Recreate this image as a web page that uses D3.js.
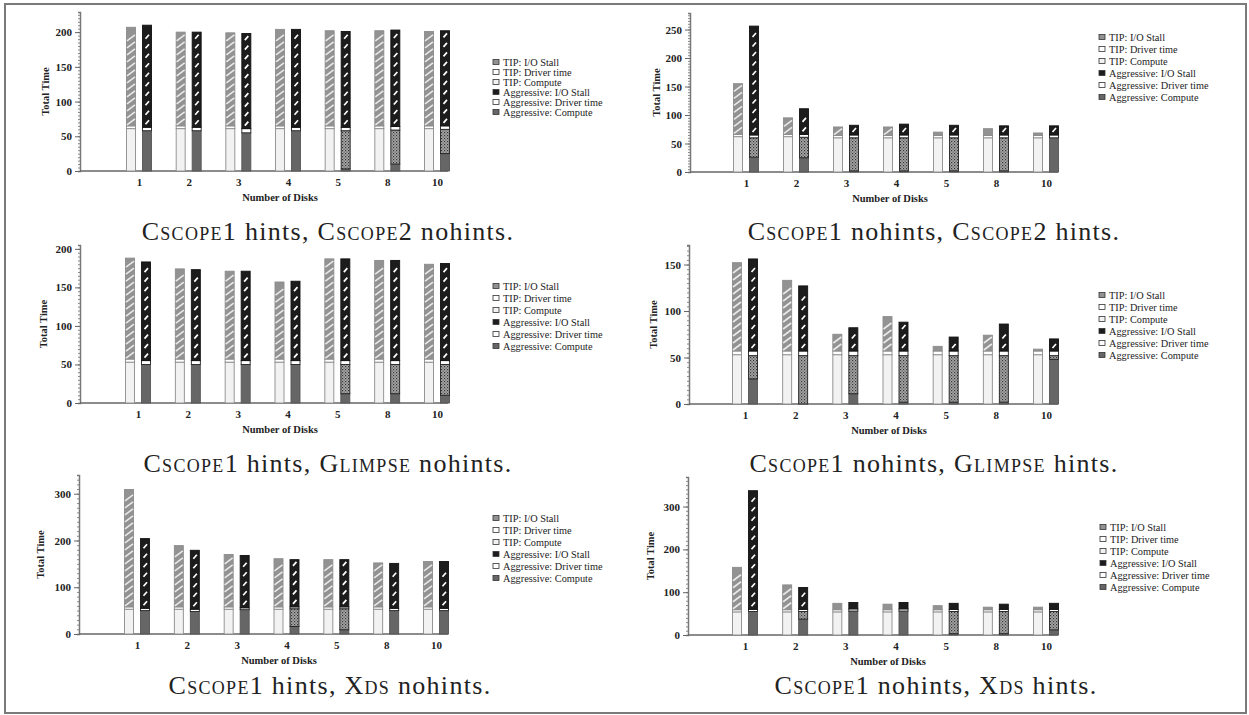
<!DOCTYPE html>
<html>
<head>
<meta charset="utf-8">
<script src="https://cdn.jsdelivr.net/npm/d3@7"></script>
<style>
  body { margin: 0; background: #fff; }
  svg { display: block; }
  .tick text { font-family: "Liberation Serif", serif; font-weight: bold; font-size: 11px; fill: #222; }
</style>
</head>
<body>
<script>
// categories and captions
const disks = ["1", "2", "3", "4", "5", "8", "10"];
// even parts are set in small caps
const captions = [
  ["Cscope", "1 hints, ", "Cscope", "2 nohints."],
  ["Cscope", "1 nohints, ", "Cscope", "2 hints."],
  ["Cscope", "1 hints, ", "Glimpse", " nohints."],
  ["Cscope", "1 nohints, ", "Glimpse", " hints."],
  ["Cscope", "1 hints, ", "Xds", " nohints."],
  ["Cscope", "1 nohints, ", "Xds", " hints."]
];
const legendLabels = [
  "TIP:  I/O Stall", "TIP:  Driver time", "TIP:  Compute",
  "Aggressive:  I/O Stall", "Aggressive:  Driver time", "Aggressive:  Compute"
];

// y domain top and tick step for each panel
const yMax = [229, 279, 205, 171, 340, 369];
const yStep = [50, 50, 50, 50, 100, 100];

// series, one row per panel, one value per disk count
const tipCompute = [
  [61, 61, 61, 61, 61, 61, 61],
  [62, 62, 60, 60, 60, 60, 60],
  [53, 53, 53, 53, 53, 53, 53],
  [53, 53, 53, 53, 53, 53, 53],
  [53, 53, 53, 53, 53, 53, 53],
  [54, 54, 54, 54, 54, 54, 54]
];
const tipDriver = [
  [4, 4, 4, 4, 4, 4, 4],
  [4, 4, 4, 4, 4, 4, 4],
  [4, 4, 4, 4, 4, 4, 4],
  [4, 4, 4, 4, 4, 4, 4],
  [5, 5, 5, 5, 5, 5, 5],
  [5, 5, 5, 5, 5, 5, 5]
];
const tipStall = [
  [142, 135, 134, 139, 137, 137, 136],
  [89, 29, 15, 15, 6, 12, 4.5],
  [131, 117, 114, 100, 130, 128, 123],
  [95, 76, 18, 37, 5, 17, 2],
  [251, 131, 112, 103, 101, 94, 97],
  [99, 58, 15, 13, 9.5, 6, 6]
];
const aggCompute = [
  [58, 58, 55, 58, 3, 10, 25],
  [26, 25, 2, 2, 2, 2, 60],
  [50, 50, 50, 50, 12, 12, 10],
  [27, 0, 11, 2, 2, 2, 48],
  [50, 48, 52, 16, 9, 50, 50],
  [55, 37, 56, 56, 3, 3, 12]
];
const aggOverlap = [
  [0, 0, 0, 0, 55, 49, 35],
  [34, 36, 58, 58, 58, 58, 0],
  [0, 0, 0, 0, 38, 38, 40],
  [25, 52, 41, 50, 50, 50, 4],
  [0, 0, 0, 38, 45, 0, 0],
  [0, 18, 0, 0, 52, 52, 43]
];
const aggDriver = [
  [5, 5, 6, 5, 5, 5, 5],
  [5, 5, 5, 5, 5, 5, 5],
  [5, 5, 5, 5, 5, 5, 5],
  [5, 5, 5, 5, 5, 5, 5],
  [5, 5, 4, 4, 4, 5, 5],
  [5, 5, 5, 5, 5, 5, 5]
];
const aggStall = [
  [147, 137, 137, 141, 138, 139, 137],
  [191, 45, 17, 19, 17, 16, 16],
  [128, 118, 116, 103, 132, 130, 126],
  [99, 70, 25, 31, 15, 29, 13],
  [149, 126, 112, 101, 101, 96, 100],
  [277, 51, 15, 15, 14, 12, 14]
];

// panel placement on the page
const layout = [
  { ax: 80,  y0: 171, y1: 12,  x0: 139, x1: 437,  xEnd: 448,  lx: 493,  ly: 62,  ld: 10, cx: 328, cy: 240, tx: 45 },
  { ax: 690, y0: 172, y1: 13,  x0: 746, x1: 1046, xEnd: 1058, lx: 1099, ly: 37,  ld: 12, cx: 934, cy: 240, tx: 656 },
  { ax: 80,  y0: 403, y1: 245, x0: 138, x1: 437,  xEnd: 448,  lx: 493,  ly: 286, ld: 12, cx: 328, cy: 472, tx: 43 },
  { ax: 689, y0: 404, y1: 245, x0: 745, x1: 1046, xEnd: 1058, lx: 1099, ly: 295, ld: 12, cx: 934, cy: 472, tx: 653 },
  { ax: 79,  y0: 634, y1: 475, x0: 137, x1: 436,  xEnd: 448,  lx: 493,  ly: 518, ld: 12, cx: 330, cy: 694, tx: 40 },
  { ax: 688, y0: 635, y1: 477, x0: 745, x1: 1046, xEnd: 1058, lx: 1100, ly: 527, ld: 12, cx: 936, cy: 694, tx: 650 }
];

const barW = 9;

const fills = {
  tipCompute: "#f2f2f2",
  tipDriver: "#ffffff",
  tipStall: "#929292",
  aggCompute: "#666666",
  aggOverlap: "url(#dots)",
  aggDriver: "#ffffff",
  aggStall: "#1c1c1c"
};
const strokes = {
  tipCompute: "#8c8c8c", tipDriver: "#8c8c8c", tipStall: "#8c8c8c",
  aggCompute: "#555", aggOverlap: "#222", aggDriver: "#222", aggStall: "#111"
};

const svg = d3.select("body").append("svg")
  .attr("width", 1249)
  .attr("height", 715);

// dotted pattern for the hatched part of aggressive bars
const defs = svg.append("defs");
const dots = defs.append("pattern")
  .attr("id", "dots")
  .attr("patternUnits", "userSpaceOnUse")
  .attr("width", 3).attr("height", 3);
dots.append("rect").attr("width", 3).attr("height", 3).attr("fill", "#a8a8a8");
dots.append("rect").attr("width", 1.2).attr("height", 1.2).attr("fill", "#333");
dots.append("rect").attr("x", 1.5).attr("y", 1.5).attr("width", 1.2).attr("height", 1.2).attr("fill", "#555");

// frame
svg.append("rect")
  .attr("x", 5).attr("y", 4)
  .attr("width", 1241).attr("height", 709)
  .attr("fill", "none")
  .attr("stroke", "#7a7a7a")
  .attr("stroke-width", 2);

layout.forEach((L, p) => {
  const g = svg.append("g");

  const y = d3.scaleLinear().domain([0, yMax[p]]).range([L.y0, L.y1]);
  const x = d3.scalePoint().domain(disks).range([L.x0, L.x1]);

  // minor ticks
  g.append("g")
    .attr("transform", "translate(" + L.ax + ",0)")
    .call(d3.axisLeft(y).tickValues(d3.range(0, yMax[p], yStep[p] / 10)).tickSize(2).tickFormat(""))
    .call(a => a.selectAll("line").attr("stroke", "#888"))
    .call(a => a.select(".domain").attr("stroke", "#777").attr("stroke-width", 1.5));

  // major ticks
  g.append("g")
    .attr("transform", "translate(" + L.ax + ",0)")
    .call(d3.axisLeft(y).tickValues(d3.range(0, yMax[p], yStep[p])).tickSize(5).tickPadding(3))
    .call(a => a.select(".domain").remove())
    .call(a => a.selectAll("line").attr("stroke", "#666"));

  // baseline
  g.append("line")
    .attr("x1", L.ax).attr("x2", L.xEnd)
    .attr("y1", y(0)).attr("y2", y(0))
    .attr("stroke", "#666")
    .attr("stroke-width", 1.6);

  // x tick labels
  g.append("g")
    .attr("transform", "translate(0," + y(0) + ")")
    .call(d3.axisBottom(x).tickSize(0).tickPadding(7))
    .call(a => a.select(".domain").remove());

  // axis titles
  g.append("text")
    .attr("x", L.ax + 200)
    .attr("y", y(0) + 30)
    .attr("text-anchor", "middle")
    .style("font-family", "Liberation Serif, serif")
    .style("font-weight", "bold")
    .style("font-size", "10.5px")
    .attr("fill", "#222")
    .text("Number of Disks");

  g.append("text")
    .attr("transform", "translate(" + L.tx + "," + (L.y0 + L.y1) / 2 + ") rotate(-90)")
    .attr("text-anchor", "middle")
    .attr("dy", "0.35em")
    .style("font-family", "Liberation Serif, serif")
    .style("font-weight", "bold")
    .style("font-size", "10.5px")
    .attr("fill", "#222")
    .text("Total Time");

  // stacked bars
  const bars = [
    { off: -12.5, keys: ["tipCompute", "tipDriver", "tipStall"], src: [tipCompute, tipDriver, tipStall] },
    { off: 3.5, keys: ["aggCompute", "aggOverlap", "aggDriver", "aggStall"], src: [aggCompute, aggOverlap, aggDriver, aggStall] }
  ];

  bars.forEach(b => {
    disks.forEach((d, i) => {
      let base = 0;
      const bx = x(d) + b.off;
      b.keys.forEach((k, j) => {
        const v = b.src[j][p][i];
        if (!v) return;
        const top = y(base + v), bot = y(base);
        base += v;
        g.append("rect")
          .attr("x", bx).attr("y", top)
          .attr("width", barW).attr("height", bot - top)
          .attr("fill", fills[k])
          .attr("stroke", strokes[k])
          .attr("stroke-width", 0.9);

        if (k === "tipStall") {
          // light diagonal stripes
          d3.range(bot - 1, top + 7, -7).forEach(yy => {
            g.append("line")
              .attr("x1", bx + 0.5).attr("y1", yy)
              .attr("x2", bx + barW - 0.5).attr("y2", yy - 6)
              .attr("stroke", "#fff").attr("stroke-width", 1.6).attr("opacity", 0.8);
          });
        }
        if (k === "aggStall") {
          // short white slashes
          d3.range(bot - 5, top + 4, -9.5).forEach(yy => {
            g.append("line")
              .attr("x1", bx + 3).attr("y1", yy + 2)
              .attr("x2", bx + 6.5).attr("y2", yy - 2)
              .attr("stroke", "#fff").attr("stroke-width", 1.7);
          });
        }
      });
    });
  });

  // legend
  const legendKeys = ["tipStall", "tipDriver", "tipCompute", "aggStall", "aggDriver", "aggCompute"];
  const lg = g.append("g").attr("transform", "translate(" + L.lx + "," + L.ly + ")");
  legendLabels.forEach((t, i) => {
    lg.append("rect")
      .attr("x", 0).attr("y", i * L.ld - 2.5)
      .attr("width", 6).attr("height", 5)
      .attr("fill", fills[legendKeys[i]])
      .attr("stroke", "#333")
      .attr("stroke-width", 0.8);
    lg.append("text")
      .attr("x", 10).attr("y", i * L.ld)
      .attr("dy", "0.35em")
      .style("font-family", "Liberation Serif, serif")
      .style("font-size", "10.3px")
      .attr("fill", "#222")
      .text(t);
  });

  // caption
  const cap = g.append("text")
    .attr("x", L.cx).attr("y", L.cy)
    .attr("text-anchor", "middle")
    .style("font-family", "Liberation Serif, serif")
    .style("font-size", "26px")
    .style("letter-spacing", "1.3px")
    .attr("fill", "#222");
  captions[p].forEach((s, k) => {
    cap.append("tspan")
      .style("font-variant", k % 2 === 0 ? "small-caps" : "normal")
      .text(s);
  });
});
</script>
</body>
</html>
